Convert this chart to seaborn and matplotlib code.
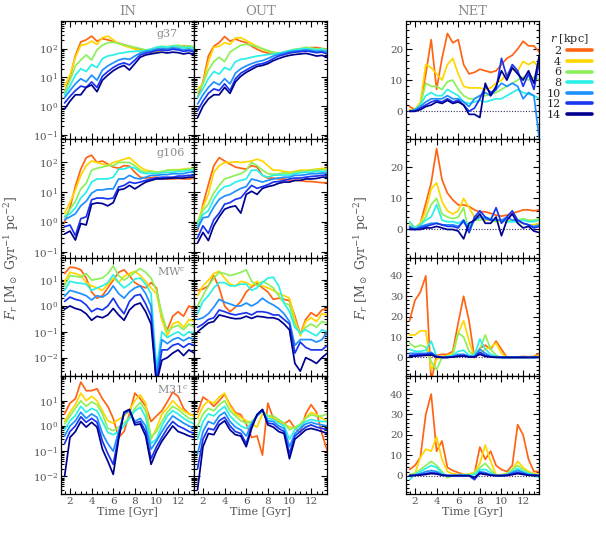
import numpy as np
import pandas as pd
import matplotlib
matplotlib.use("Agg")
import matplotlib.pyplot as plt
import seaborn as sns
from matplotlib.lines import Line2D
from matplotlib.ticker import AutoMinorLocator, MultipleLocator, LogLocator, NullFormatter

# time grid (Gyr) shared by every curve
TIME = [1.5, 2.0, 2.5, 3.0, 3.5, 4.0, 4.5, 5.0, 5.5, 6.0, 6.5, 7.0, 7.5,
        8.0, 8.5, 9.0, 9.5, 10.0, 10.5, 11.0, 11.5, 12.0, 12.5, 13.0, 13.5]
RADII = [2, 4, 6, 8, 10, 12, 14]
COLORS = ["#ff6414", "#ffd700", "#8cf05a", "#2af0e8", "#1e90ff", "#1a35f0", "#000090"]
GALAXIES = ["g37", "g106", "MW$^c$", "M31$^c$"]

# one row per radius (2, 4, ..., 14 kpc)
G37_IN = [
    [3, 10, 57, 170, 200, 270, 180, 220, 200, 175, 155, 135, 120, 105, 95, 85, 85, 95, 100, 100, 110, 120, 125, 120, 110],
    [5, 12, 50, 130, 140, 180, 140, 240, 270, 200, 150, 125, 110, 95, 85, 75, 70, 80, 85, 90, 100, 110, 110, 100, 95],
    [3, 8, 25, 40, 60, 40, 90, 130, 160, 165, 150, 135, 120, 110, 100, 90, 95, 110, 120, 115, 125, 130, 120, 125, 115],
    [2.5, 5, 12, 20, 16, 28, 22, 45, 55, 60, 68, 72, 78, 80, 82, 85, 95, 110, 115, 110, 120, 115, 105, 110, 100],
    [2, 3.5, 6, 9, 7, 12, 8, 18, 25, 32, 40, 45, 42, 55, 70, 80, 85, 95, 100, 95, 105, 100, 90, 95, 85],
    [1.3, 2.2, 3.5, 5, 4.5, 7, 4.5, 11, 16, 22, 28, 32, 27, 40, 60, 70, 75, 85, 90, 85, 95, 90, 80, 85, 75],
    [0.8, 1.5, 2.5, 2.5, 4.5, 5.5, 3.2, 8, 12, 17, 22, 26, 18, 30, 50, 60, 65, 70, 75, 70, 75, 72, 65, 70, 60],
]
G37_OUT = [
    [2, 7, 55, 120, 160, 260, 180, 215, 180, 160, 120, 95, 78, 70, 68, 65, 73, 78, 85, 95, 100, 108, 108, 100, 95],
    [4, 6, 35, 110, 120, 160, 140, 230, 240, 190, 150, 120, 95, 80, 70, 60, 62, 70, 75, 80, 90, 95, 90, 85, 80],
    [3, 6, 18, 35, 50, 35, 75, 100, 130, 140, 130, 115, 100, 85, 75, 70, 75, 85, 95, 100, 110, 105, 95, 100, 90],
    [2, 4, 9, 16, 13, 22, 18, 35, 42, 45, 50, 55, 58, 62, 65, 68, 75, 85, 90, 95, 100, 95, 90, 95, 85],
    [1.2, 2.5, 4.5, 7, 5.5, 9, 6, 14, 20, 25, 30, 35, 38, 45, 55, 62, 70, 78, 82, 85, 90, 85, 80, 82, 75],
    [0.7, 1.5, 2.8, 4, 3.5, 6, 3.5, 9, 14, 18, 23, 28, 30, 35, 45, 55, 62, 70, 75, 78, 82, 78, 72, 75, 65],
    [0.4, 1.0, 1.8, 2.5, 2.5, 4.5, 2.8, 7, 11, 15, 19, 24, 26, 30, 38, 45, 52, 58, 62, 65, 68, 62, 55, 58, 50],
]
G37_NET = [
    [1.5, 0.5, 2, 12, 23, 7, 17, 25, 22, 23, 15, 12, 12.5, 13.5, 13, 12.5, 13, 15, 17, 18, 20, 22.5, 21, 21, 19],
    [0.5, 0.5, 3, 15, 14, 12, 10, 15, 17, 12, 8, 7.5, 7.5, 7.5, 7, 7.5, 9, 10, 12, 13.5, 13, 16, 15, 16, 13.5],
    [0, 0.5, 2, 9, 8, 8, 7, 9.5, 10, 7, 5, 4, 4, 5, 5, 5.5, 6, 7, 8, 9, 10, 11, 10, 11, 10],
    [0, 0.5, 2, 5, 6, 5, 5, 7, 6, 5, 3, 2.5, 3, 3.5, 3, 3.5, 4, 4, 5, 6, 7, 6, 5.5, 5, 4],
    [0, 0.5, 1.5, 3, 4, 4, 4, 5, 4, 4, 3, 1.5, 4, 5, 6, 5, 7, 9, 8, 9, 8, 4, 6, 5, -9],
    [0, 0, 1, 2, 3, 3.5, 3, 4, 3, 3.5, 2, 0, 1, 4, 8, 6, 7, 17, 11, 15, 13, 8, 12, 7, 16],
    [0, 0, 0.5, 1.5, 2, 3, 2.5, 3.5, 2.5, 3, 2, -1, -1, -2, 9, 5, 8, 13, 10, 14, 12, 10, 13, 9, 18],
]
G106_IN = [
    [1, 3, 16, 60, 145, 175, 100, 112, 88, 70, 64, 78, 75, 47, 32, 30, 31, 32, 30, 28, 28, 29, 28, 28, 30],
    [2, 4.5, 12, 37, 78, 112, 100, 88, 78, 100, 112, 128, 145, 100, 70, 55, 52, 47, 47, 55, 57, 57, 60, 63, 63],
    [1.5, 2.7, 5, 13, 20, 55, 64, 70, 78, 78, 100, 100, 100, 78, 55, 47, 50, 47, 50, 55, 55, 55, 57, 60, 60],
    [1.5, 1.9, 3, 6.4, 10, 22, 28, 28, 28, 32, 60, 60, 70, 65, 47, 42, 44, 42, 45, 47, 47, 50, 50, 55, 55],
    [1.2, 1.5, 1.9, 3.5, 5, 9.3, 12, 12, 13, 13, 28, 28, 37, 30, 28, 32, 37, 37, 39, 39, 42, 42, 42, 47, 47],
    [0.7, 0.8, 0.35, 1.3, 1.5, 5.6, 6.4, 6.4, 6, 6.4, 15, 17, 22, 20, 22, 25, 28, 30, 32, 32, 32, 35, 35, 37, 37],
    [0.4, 0.5, 0.25, 0.9, 0.8, 4, 4.4, 4.2, 3.5, 4.5, 12, 13, 17, 13, 17, 22, 25, 28, 28, 29, 30, 30, 30, 32, 32],
]
G106_OUT = [
    [0.5, 4, 18, 78, 145, 112, 88, 70, 64, 60, 78, 70, 37, 30, 30, 28, 28, 25, 25, 25, 23, 23, 22, 21, 21],
    [1, 3.2, 8.5, 47, 78, 100, 100, 105, 100, 105, 112, 128, 112, 78, 55, 55, 50, 47, 50, 55, 55, 57, 60, 63, 63],
    [1, 2.5, 4, 9.5, 17, 28, 32, 37, 42, 55, 100, 78, 55, 42, 40, 42, 45, 42, 47, 50, 50, 55, 55, 57, 57],
    [0.8, 1.8, 2.4, 5.8, 10.8, 15.5, 17, 22, 25, 28, 55, 55, 37, 32, 37, 38, 38, 37, 42, 45, 47, 47, 50, 50, 50],
    [0.6, 1.4, 1.5, 3.2, 5.8, 7.5, 8.5, 10.8, 13.5, 15.5, 28, 25, 22, 25, 28, 30, 32, 32, 37, 37, 39, 42, 42, 44, 44],
    [0.3, 0.75, 0.42, 1.2, 2, 4, 4.5, 5.8, 6.5, 10.8, 17, 13.5, 15.5, 18, 22, 23, 25, 28, 30, 30, 32, 34, 35, 37, 37],
    [0.2, 0.45, 0.24, 0.75, 1.5, 2.7, 3.2, 3.5, 2, 8.5, 10.8, 8.5, 13.5, 15.5, 17, 20, 22, 22, 25, 25, 28, 28, 29, 32, 32],
]
G106_NET = [
    [1, 0.3, 2, 8.4, 15, 26, 16, 11.7, 9.5, 7.9, 7.9, 7.4, 6.3, 5.7, 5.7, 5.2, 4.6, 4.3, 4.6, 5.2, 5.7, 6.3, 6.3, 6, 6.3],
    [2, 0.5, 2, 6, 13, 15, 9, 6, 5, 6, 10, 7, 4, 4, 3, 3, 3, 2.5, 2.5, 3, 2.5, 2, 1.5, 1.5, 2],
    [1, 0.3, 1.5, 4, 8, 10, 5, 4, 3.5, 4, 7, -1, 3, 3, 3.5, 3, 2.5, 3, 2.5, 3, 3, 3.5, 3, 3, 3.5],
    [2.5, 0.5, 1.5, 3, 4, 8, 3, 2.5, 2.5, 2, 3, 1, 3, 4, 4, 3.5, 3, 3, 2.5, 2.5, 2.5, 3, 2.5, 2.5, 3],
    [1, 0, 1, 1.5, 2, 2, 1.5, 1.5, 1.5, 1, 2.5, 0, 3, 4, 3.5, 3, 3, 3, 4, 3, 3, 2, 1.5, 1, 1.5],
    [0.5, 0, 0.5, 1, 1.5, 2, 1.5, 1, 1, 0.5, 3, -1, 4, 6, 4, 3, 7, 2, 4, 6, 3, 2, 1.5, 0.5, 1],
    [0, 0, 0, 0.5, 0.5, 1, 0.5, 0, 0, -0.5, -3, 2, 3, 5, 2, 2, 4, -2, 3, 5, 2, 0.5, 1, -0.5, -1],
]
MW_IN = [
    [18, 32, 30, 25, 12, 3.5, 2, 2.5, 5, 10, 20, 25, 15, 8, 6, 5, 8, 5, 0.3, 0.12, 0.4, 0.6, 0.4, 1.0, 0.8],
    [9, 20, 18, 15, 8, 6, 5, 4, 7, 12, 8, 14, 18, 22, 15, 9, 5, 3, 0.3, 0.07, 0.2, 0.25, 0.15, 0.3, 0.25],
    [6, 15, 14, 13, 18, 10, 11, 12, 18, 35, 15, 10, 14, 20, 28, 20, 12, 4, 0.5, 0.1, 0.15, 0.18, 0.12, 0.2, 0.15],
    [4, 9, 8, 7.5, 7, 4, 5, 6, 8, 16, 8, 5, 7, 11, 12, 7, 3, 0.004, 0.1, 0.06, 0.08, 0.1, 0.07, 0.1, 0.09],
    [2.4, 4, 3.5, 3, 2.5, 1.7, 2.5, 2.2, 3, 6, 3, 2, 3.5, 5, 6, 3, 1, 0.002, 0.05, 0.035, 0.05, 0.06, 0.045, 0.06, 0.05],
    [1.5, 2.2, 1.8, 1.6, 1.1, 0.6, 0.8, 0.7, 1, 2, 0.9, 0.5, 1.5, 2.5, 2.8, 1.2, 0.4, 0.001, 0.02, 0.02, 0.03, 0.035, 0.025, 0.035, 0.03],
    [0.75, 1.0, 0.8, 0.7, 0.5, 0.28, 0.4, 0.35, 0.45, 0.8, 0.45, 0.28, 0.7, 1.1, 1.3, 0.6, 0.2, 0.001, 0.008, 0.01, 0.015, 0.02, 0.012, 0.02, 0.015],
]
MW_OUT = [
    [4, 4.5, 6, 15, 5, 1, 0.6, 0.9, 1.5, 3.5, 5.5, 7.5, 5, 3.5, 1.8, 2, 1.8, 1.6, 0.4, 0.08, 0.3, 0.55, 0.4, 0.7, 0.8],
    [2.5, 6, 10, 18, 22, 12, 7, 6, 9, 8, 6, 9, 6, 5, 4, 3, 2.5, 2, 0.3, 0.07, 0.25, 0.35, 0.25, 0.5, 0.45],
    [1, 2.5, 6, 12, 20, 18, 15, 17, 20, 25, 9, 6, 9, 7, 5, 2.5, 1.3, 1.1, 0.2, 0.08, 0.15, 0.2, 0.15, 0.25, 0.22],
    [0.5, 1.5, 2.5, 5, 8, 8, 6, 6, 7, 7, 4, 5, 8, 12, 13, 6, 1.3, 0.6, 0.15, 0.09, 0.12, 0.09, 0.07, 0.12, 0.1],
    [0.3, 0.35, 0.5, 0.9, 1.8, 1.4, 1.2, 1.0, 1.0, 1.3, 1.0, 1.3, 2, 1.4, 1.1, 0.8, 0.5, 0.25, 0.03, 0.05, 0.05, 0.05, 0.04, 0.05, 0.1],
    [0.15, 0.2, 0.3, 0.35, 0.7, 0.6, 0.5, 0.45, 0.5, 0.55, 0.45, 0.6, 0.6, 0.55, 0.45, 0.45, 0.3, 0.2, 0.015, 0.04, 0.025, 0.02, 0.02, 0.02, 0.03],
    [0.1, 0.15, 0.22, 0.25, 0.45, 0.4, 0.35, 0.32, 0.33, 0.4, 0.33, 0.4, 0.38, 0.35, 0.35, 0.3, 0.2, 0.12, 0.006, 0.003, 0.01, 0.008, 0.006, 0.01, 0.015],
]
MW_NET = [
    [18, 28, 32, 40, -12, 1, 1.5, 1.5, 3, 17, 30, 18, 0, 4.5, 6, 4, 8, 4, 0, 0, 0.2, 0.5, 0.3, 0.5, 2],
    [11, 11, 13, 13, -6, -1, 0.5, 1, 2, 12, 18, 8, 0, 2, 4, 5, 7, 2, 0, 0, 0, 0.3, 0.2, 0.3, 1],
    [7, 5, 6, 5, -2, -6, 0, 0.5, 1, 12, 10, 3, 1, 4, 11, 4, 1, 0, 0, 0, 0, 0, 0, 0, 0.5],
    [4, 3, 3, 3.5, 8, 0.5, 0, 0.5, 1, 3, 3.5, 1, 1, 9, 4, 1.5, 0.5, 0, 0, 0, 0, 0, 0, 0, 0.3],
    [2, 2, 2, 2, 2.5, 0.5, 0, 0, 0.5, 1.5, 1.5, 0.5, 0.5, 4, 2, 0.5, 0.2, 0, 0, 0, 0, 0, 0, 0, 0.2],
    [1, 1.2, 1.5, 1.5, 2, 0.3, 0, 0, 0.3, 0.8, 1, 0.3, 0.3, 2.5, 1, 0.3, 0.1, 0, 0, 0, 0, 0, 0, 0, 0.1],
    [0.5, 0.6, 0.8, 1, 1.2, 0.2, 0, 0, 0.2, 0.5, 0.6, 0.2, 0.2, 1.5, 0.5, 0.2, 0, 0, 0, 0, 0, 0, 0, 0, 0],
]
M31_IN = [
    [3, 8, 12, 55, 25, 25, 30, 12, 6, 2, 0.35, 0.6, 3, 20, 12, 6, 1.5, 2.5, 4, 9, 22, 15, 5, 3, 2.5],
    [1.5, 3.5, 7, 20, 10, 15, 10, 4, 1.6, 1.3, 1.8, 2.5, 4, 10, 17, 8, 0.3, 0.8, 3, 5, 10, 6, 4, 3, 2.5],
    [1.2, 2.5, 5, 10, 6, 9, 7, 3, 0.8, 0.65, 0.9, 1.3, 2.2, 5, 8.5, 4, 0.35, 0.6, 1.5, 3.5, 6, 4.5, 3, 2, 1.8],
    [0.7, 1.6, 2.6, 6, 3.5, 5, 4, 1.5, 0.55, 0.45, 0.6, 1.0, 2, 4, 5.5, 2.2, 0.2, 0.3, 1, 2.5, 4, 3, 2, 1.5, 1.2],
    [0.4, 1.0, 1.6, 3.5, 2, 3, 2.2, 0.5, 0.2, 0.1, 0.6, 3, 4, 1.5, 2, 1, 0.12, 0.25, 0.6, 1.3, 2.5, 1.8, 1.3, 1, 0.8],
    [0.2, 0.6, 1.0, 2.3, 1.4, 2, 1.4, 0.25, 0.08, 0.03, 0.4, 3.5, 4.5, 1.3, 1.5, 0.6, 0.05, 0.15, 0.35, 0.8, 1.5, 1.0, 0.8, 0.6, 0.5],
    [0.01, 0.35, 0.6, 1.5, 0.9, 1.4, 0.9, 0.12, 0.04, 0.012, 0.3, 3.5, 4.5, 1.1, 1.2, 0.4, 0.03, 0.1, 0.25, 0.5, 1.0, 0.6, 0.5, 0.4, 0.35],
]
M31_OUT = [
    [3.4, 14, 10, 6, 10, 18, 7, 3.4, 2.8, 1.2, 0.35, 0.4, 0.07, 8, 2, 1.5, 1.2, 1.7, 0.8, 0.55, 3, 7, 3.5, 0.5, 0.1],
    [2, 6, 10, 8, 14, 20, 6, 3, 2.2, 1.6, 1.2, 0.9, 3, 2.5, 2, 1.6, 1.2, 0.9, 0.8, 1.0, 2.2, 3.4, 2.8, 2, 1.5],
    [1, 3, 5, 4, 7, 10, 4, 2.5, 1.6, 1.3, 1.5, 2.5, 4, 2.5, 2.5, 1.8, 1.3, 0.7, 0.9, 1.2, 2, 2.8, 2.4, 2.5, 3],
    [0.3, 1.5, 3, 2.5, 4, 6, 2.5, 1.5, 1, 0.8, 1.3, 2.5, 4, 2, 1.8, 1.3, 1, 0.3, 0.7, 1, 1.5, 1.8, 1.6, 1.5, 1.5],
    [0.08, 0.6, 1.5, 1.2, 2.5, 3.5, 1.5, 0.9, 0.7, 0.4, 1.2, 2.5, 4, 1.6, 1.5, 1, 0.8, 0.15, 0.5, 0.8, 1.2, 1.4, 1.2, 1.1, 1],
    [0.02, 0.3, 0.8, 0.7, 1.6, 2.2, 1, 0.6, 0.5, 0.2, 1, 2.8, 4.5, 1.3, 1.2, 0.8, 0.6, 0.08, 0.4, 0.6, 0.9, 1.1, 0.9, 0.8, 0.7],
    [0.003, 0.15, 0.5, 0.45, 1.1, 1.6, 0.7, 0.45, 0.4, 0.15, 0.8, 2.8, 4.5, 1.1, 0.9, 0.6, 0.5, 0.05, 0.3, 0.45, 0.7, 0.8, 0.7, 0.6, 0.5],
]
M31_NET = [
    [3, 5, 9, 30, 40, 12, 17, 4, 2.5, 1.5, 0.5, 0.3, 1, 14, 8, 12, 5, 3, 2, 5, 25, 20, 8, 2, 2],
    [0.5, 1, 9, 13, 12, 19, 8, 2, 1, 0.5, 0.5, 0.8, 1.5, 6, 15, 7, 0.5, 0.5, 1, 3, 7, 4, 2, 1, 0.5],
    [0.5, 1, 3, 5, 7, 5, 2, -1, 0, 0.5, 0.3, 0.5, 1, 4, 6, 3, 0, 0.3, 1, 3, 5, 3, 1.5, 0.5, 0.3],
    [-2, 0.5, 2, 3.5, 5, 4, 1, 0, 0, 0.3, 0.3, 0, 0.5, 3, 3, 1.5, 0, 0, 0.5, 2, 3.5, 2, 1, 0.5, -1],
    [0, 0.3, 1, 2, 2.5, 2, 0.5, 0, 0, 0, 0, 0, -1, 2, 1.5, 0.5, 0, 0, 0.3, 1.5, 2.5, 1.5, 0.5, 0.3, 0],
    [0, 0.2, 0.5, 1, 1.5, 1.2, 0.3, 0, 0, 0, 0, 0, -2, 1.5, 1, 0.3, 0, 0, 0.2, 1, 1.5, 1, 0.3, 0.2, 0],
    [0, 0.1, 0.3, 0.6, 1, 0.8, 0.2, 0, 0, 0, 0, 0, -1, 1, 0.6, 0.2, 0, 0, 0.1, 0.5, 1, 0.6, 0.2, 0.1, 0],
]

PANELS = [
    (G37_IN, G37_OUT, G37_NET),
    (G106_IN, G106_OUT, G106_NET),
    (MW_IN, MW_OUT, MW_NET),
    (M31_IN, M31_OUT, M31_NET),
]
LOG_LIMITS = [(0.072, 900), (0.065, 600), (0.002, 75), (0.002, 98)]
NET_LIMITS = [(-9, 29), (-9, 29), (-9, 49), (-9, 49)]

sns.set_theme(style="ticks")
plt.rcParams["font.family"] = ["DejaVu Serif"]
plt.rcParams["mathtext.fontset"] = "dejavuserif"

TEXT_GRAY = "#555555"
TITLE_GRAY = "#8a8a8a"


def panel_frame(values):
    rows = []
    for r, series in zip(RADII, values):
        for t, v in zip(TIME, series):
            rows.append((t, v, r))
    return pd.DataFrame(rows, columns=["time", "flux", "r"])


def style_axis(ax, log, row, show_y):
    ax.set_xlim(1.17, 13.47)
    ax.xaxis.set_major_locator(MultipleLocator(2))
    ax.xaxis.set_minor_locator(AutoMinorLocator(4))
    if log:
        ax.set_yscale("log")
        ax.set_ylim(*LOG_LIMITS[row])
        ax.yaxis.set_major_locator(LogLocator(base=10, numticks=12))
        ax.yaxis.set_minor_locator(LogLocator(base=10, subs=np.arange(2, 10), numticks=12))
        ax.yaxis.set_minor_formatter(NullFormatter())
    else:
        ax.set_ylim(*NET_LIMITS[row])
        ax.yaxis.set_major_locator(MultipleLocator(10))
        ax.yaxis.set_minor_locator(AutoMinorLocator(5))
    ax.tick_params(which="both", direction="in", top=True, right=True,
                   colors="black", labelcolor=TEXT_GRAY, labelsize=7.5, width=0.8)
    ax.tick_params(which="major", length=4.5)
    ax.tick_params(which="minor", length=2.2)
    ax.tick_params(labelleft=show_y, labelbottom=(row == 3), pad=2)
    for sp in ax.spines.values():
        sp.set_linewidth(0.9)
        sp.set_color("black")
    ax.set_xlabel("Time [Gyr]" if row == 3 else "", fontsize=8, color=TEXT_GRAY, labelpad=1)
    ax.set_ylabel("")


fig = plt.figure(figsize=(6.06, 5.37), dpi=100)
W, H = 606.0, 537.0
row_h = (494 - 21) / 4.0
col_x = [61, 194, 406]
palette = dict(zip(RADII, COLORS))

for row, panel in enumerate(PANELS):
    top = 21 + row * row_h
    for col, values in enumerate(panel):
        ax = fig.add_axes([col_x[col] / W, 1 - (top + row_h) / H, 133 / W, row_h / H])
        df = panel_frame(values)
        if col == 2:
            ax.axhline(0, color="#333366", lw=0.8, ls=(0, (1, 1.5)), zorder=1)
        sns.lineplot(data=df, x="time", y="flux", hue="r", palette=palette,
                     estimator=None, legend=False, linewidth=1.25, ax=ax)
        style_axis(ax, log=(col < 2), row=row, show_y=(col != 1))
        if row == 0:
            ax.set_title(["IN", "OUT", "NET"][col], fontsize=9.5, color=TITLE_GRAY, pad=4)
        if col == 0:
            ax.text(0.72, 0.93, GALAXIES[row], transform=ax.transAxes, ha="left", va="top",
                    fontsize=8, color=TITLE_GRAY)

ylabel = r"$F_r$ [M$_\odot$ Gyr$^{-1}$ pc$^{-2}$]"
fig.text(12 / W, 1 - 257.5 / H, ylabel, rotation=90, ha="center", va="center",
         fontsize=9, color=TEXT_GRAY)
fig.text(362 / W, 1 - 257.5 / H, ylabel, rotation=90, ha="center", va="center",
         fontsize=9, color=TEXT_GRAY)

handles = [Line2D([0], [0], color=c, lw=2.6) for c in COLORS]
fig.legend(handles, [str(r) for r in RADII], loc="upper right",
           bbox_to_anchor=(600 / W, 1 - 24 / H), frameon=False, markerfirst=False,
           title="$r$ [kpc]", fontsize=8, title_fontsize=8, handlelength=2.3,
           labelspacing=0.05, handletextpad=0.5, borderpad=0.2)

fig.savefig("out.png", dpi=100)
